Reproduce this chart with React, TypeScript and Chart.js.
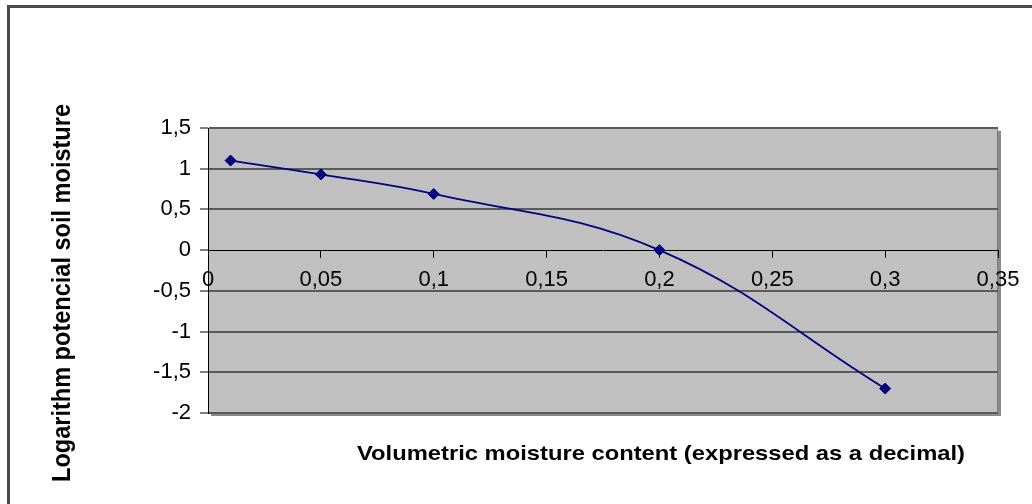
import React, { useEffect, useRef } from "react";
import { Chart, registerables } from "chart.js";

Chart.register(...registerables);

// ---- data ----
const moistureContent = [0.01, 0.05, 0.1, 0.2, 0.3];
const logPotential = [1.1, 0.93, 0.69, 0.0, -1.7];
const xRange = [0, 0.35];
const yRange = [-2, 1.5];
const xStep = 0.05;
const yStep = 0.5;
const xTitle = "Volumetric moisture content (expressed as a decimal)";
const yTitle = "Logarithm potencial soil moisture";

const fmt = (v: number) => String(Number(Number(v).toFixed(2))).replace(".", ",");

const plotBgPlugin = {
  id: "plotBg",
  beforeDraw(chart: any) {
    const { ctx, chartArea: a } = chart;
    const w = a.right - a.left;
    const h = a.bottom - a.top;
    ctx.save();
    ctx.fillStyle = "#8a8a8a";
    ctx.fillRect(a.left + 3, a.top + 3, w, h);
    ctx.fillStyle = "#c0c0c0";
    ctx.fillRect(a.left, a.top, w, h);
    ctx.strokeStyle = "#7a7a7a";
    ctx.lineWidth = 1;
    ctx.strokeRect(a.left + 0.5, a.top + 0.5, w - 1, h - 1);
    ctx.restore();
  },
};

function drawFitted(ctx: CanvasRenderingContext2D, text: string, cx: number, cy: number, len: number, cap: number, angle: number) {
  const size = cap / 0.716;
  ctx.save();
  ctx.font = `bold ${size}px "Liberation Sans", Arial, sans-serif`;
  const w = ctx.measureText(text).width;
  ctx.translate(cx, cy);
  ctx.rotate(angle);
  ctx.scale(len / w, 1);
  ctx.textAlign = "center";
  ctx.textBaseline = "alphabetic";
  ctx.fillStyle = "#000";
  ctx.fillText(text, 0, 0);
  ctx.restore();
}

const titlesPlugin = {
  id: "titles",
  afterDraw(chart: any) {
    const ctx = chart.ctx as CanvasRenderingContext2D;
    drawFitted(ctx, xTitle, 661, 460, 608, 15, 0);
    drawFitted(ctx, yTitle, 70, 293, 378, 19, -Math.PI / 2);
  },
};

export default function App() {
  const ref = useRef<HTMLCanvasElement>(null);
  useEffect(() => {
    const tickFont = { family: '"Liberation Sans", Arial, sans-serif', size: 22 };
    const chart = new Chart(ref.current as HTMLCanvasElement, {
      type: "scatter",
      data: {
        datasets: [
          {
            data: moistureContent.map((x, i) => ({ x, y: logPotential[i] })),
            showLine: true,
            borderColor: "#000080",
            backgroundColor: "#000080",
            borderWidth: 1.75,
            tension: 0.4,
            pointStyle: "rectRot",
            pointRadius: 5.5,
            pointBorderWidth: 1,
            pointBorderColor: "#000080",
            pointBackgroundColor: "#000080",
          },
        ],
      },
      options: {
        animation: false,
        responsive: false,
        layout: { padding: { left: 0, top: 128, right: 34, bottom: 91 } },
        plugins: { legend: { display: false }, tooltip: { enabled: false } },
        scales: {
          x: {
            type: "linear",
            position: { y: 0 } as any,
            min: xRange[0],
            max: xRange[1],
            ticks: {
              stepSize: xStep,
              color: "#000",
              font: tickFont,
              padding: 10,
              maxRotation: 0,
              autoSkip: false,
              callback: (v: any) => fmt(v),
            },
            grid: {
              drawOnChartArea: false,
              drawTicks: true,
              tickLength: 7,
              tickColor: "#000",
              tickWidth: 1,
              color: "#000",
            },
            border: { display: true, color: "#000", width: 1 },
            afterFit: (s: any) => {
              s.height = 0;
            },
          },
          y: {
            type: "linear",
            position: "left",
            min: yRange[0],
            max: yRange[1],
            ticks: {
              stepSize: yStep,
              color: "#000",
              font: tickFont,
              padding: 9,
              callback: (v: any) => fmt(v),
            },
            grid: {
              color: (c: any) => (c.tick && c.tick.value === 0 ? "rgba(0,0,0,0)" : "#5a5a5a"),
              lineWidth: 2,
              drawTicks: true,
              tickLength: 8,
              tickColor: "#000",
              tickWidth: 1,
            },
            border: { display: true, color: "#000", width: 1 },
            afterFit: (s: any) => {
              s.width = 208;
            },
          },
        },
      },
      plugins: [plotBgPlugin, titlesPlugin],
    } as any);
    return () => chart.destroy();
  }, []);

  return (
    <div style={{ position: "fixed", left: 0, top: 0, width: 1032, height: 504, overflow: "hidden", background: "#fff" }}>
      <div
        style={{
          position: "absolute",
          left: 7,
          top: 5,
          width: 1200,
          height: 700,
          borderLeft: "3px solid #4a4a4a",
          borderTop: "3px solid #4a4a4a",
        }}
      />
      <canvas ref={ref} width={1032} height={504} style={{ position: "absolute", left: 0, top: 0, width: 1032, height: 504 }} />
    </div>
  );
}
